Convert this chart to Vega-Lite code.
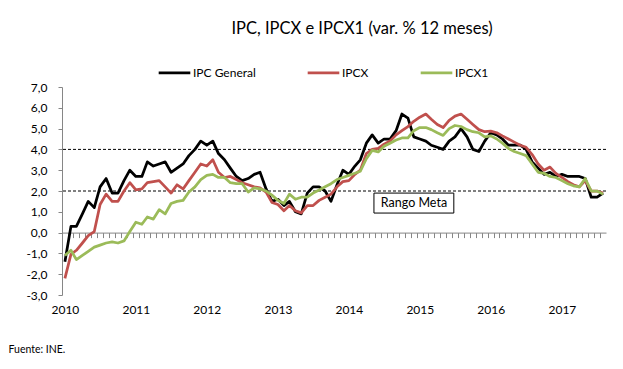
{
  "$schema": "https://vega.github.io/schema/vega-lite/v6.json",
  "width": 544,
  "height": 208,
  "autosize": {"type": "none"},
  "padding": {"left": 62, "top": 87, "right": 17, "bottom": 74},
  "background": "white",
  "config": {
    "font": "Lato",
    "view": {"stroke": null},
    "axis": {"labelOverlap": false},
    "axisY": {"labelOverlap": false, "tickCount": 11},
    "axisQuantitative": {"labelOverlap": false},
    "locale": {"number": {"decimal": ",", "thousands": ".", "grouping": [3], "currency": ["", " $"], "minus": "-"}}
  },
  "title": {"text": "IPC, IPCX  e IPCX1  (var. % 12 meses)", "fontSize": 16.5, "fontWeight": "normal", "color": "#000000", "anchor": "middle", "dx": 28, "offset": 18, "font": "Lato"},
  "datasets": {
    "series": [
      {"mes": "2010/01/01", "IPC General": -1.4, "IPCX": -2.2, "IPCX1": -1.1},
      {"mes": "2010/02/01", "IPC General": 0.3, "IPCX": -1.05, "IPCX1": -0.85},
      {"mes": "2010/03/01", "IPC General": 0.3, "IPCX": -0.85, "IPCX1": -1.3},
      {"mes": "2010/04/01", "IPC General": 0.9, "IPCX": -0.5, "IPCX1": -1.1},
      {"mes": "2010/05/01", "IPC General": 1.5, "IPCX": -0.15, "IPCX1": -0.9},
      {"mes": "2010/06/01", "IPC General": 1.2, "IPCX": 0.05, "IPCX1": -0.7},
      {"mes": "2010/07/01", "IPC General": 2.2, "IPCX": 1.35, "IPCX1": -0.6},
      {"mes": "2010/08/01", "IPC General": 2.6, "IPCX": 1.85, "IPCX1": -0.5},
      {"mes": "2010/09/01", "IPC General": 1.9, "IPCX": 1.5, "IPCX1": -0.45},
      {"mes": "2010/10/01", "IPC General": 1.9, "IPCX": 1.5, "IPCX1": -0.5},
      {"mes": "2010/11/01", "IPC General": 2.5, "IPCX": 2.0, "IPCX1": -0.4},
      {"mes": "2010/12/01", "IPC General": 3.0, "IPCX": 2.4, "IPCX1": 0.05},
      {"mes": "2011/01/01", "IPC General": 2.7, "IPCX": 2.05, "IPCX1": 0.5},
      {"mes": "2011/02/01", "IPC General": 2.7, "IPCX": 2.1, "IPCX1": 0.4},
      {"mes": "2011/03/01", "IPC General": 3.4, "IPCX": 2.4, "IPCX1": 0.75},
      {"mes": "2011/04/01", "IPC General": 3.2, "IPCX": 2.45, "IPCX1": 0.65},
      {"mes": "2011/05/01", "IPC General": 3.3, "IPCX": 2.5, "IPCX1": 1.1},
      {"mes": "2011/06/01", "IPC General": 3.4, "IPCX": 2.2, "IPCX1": 0.9},
      {"mes": "2011/07/01", "IPC General": 2.9, "IPCX": 1.9, "IPCX1": 1.4},
      {"mes": "2011/08/01", "IPC General": 3.1, "IPCX": 2.3, "IPCX1": 1.5},
      {"mes": "2011/09/01", "IPC General": 3.3, "IPCX": 2.1, "IPCX1": 1.55},
      {"mes": "2011/10/01", "IPC General": 3.7, "IPCX": 2.5, "IPCX1": 1.95},
      {"mes": "2011/11/01", "IPC General": 4.0, "IPCX": 2.9, "IPCX1": 2.2},
      {"mes": "2011/12/01", "IPC General": 4.4, "IPCX": 3.3, "IPCX1": 2.55},
      {"mes": "2012/01/01", "IPC General": 4.2, "IPCX": 3.2, "IPCX1": 2.75},
      {"mes": "2012/02/01", "IPC General": 4.4, "IPCX": 3.5, "IPCX1": 2.8},
      {"mes": "2012/03/01", "IPC General": 3.8, "IPCX": 2.9, "IPCX1": 2.65},
      {"mes": "2012/04/01", "IPC General": 3.5, "IPCX": 2.65, "IPCX1": 2.65},
      {"mes": "2012/05/01", "IPC General": 3.1, "IPCX": 2.7, "IPCX1": 2.4},
      {"mes": "2012/06/01", "IPC General": 2.7, "IPCX": 2.55, "IPCX1": 2.35},
      {"mes": "2012/07/01", "IPC General": 2.5, "IPCX": 2.4, "IPCX1": 2.35},
      {"mes": "2012/08/01", "IPC General": 2.6, "IPCX": 2.3, "IPCX1": 1.95},
      {"mes": "2012/09/01", "IPC General": 2.8, "IPCX": 2.2, "IPCX1": 2.15},
      {"mes": "2012/10/01", "IPC General": 2.9, "IPCX": 2.15, "IPCX1": 2.1},
      {"mes": "2012/11/01", "IPC General": 2.1, "IPCX": 1.95, "IPCX1": 2.0},
      {"mes": "2012/12/01", "IPC General": 1.5, "IPCX": 1.45, "IPCX1": 1.8},
      {"mes": "2013/01/01", "IPC General": 1.6, "IPCX": 1.35, "IPCX1": 1.55},
      {"mes": "2013/02/01", "IPC General": 1.3, "IPCX": 1.05, "IPCX1": 1.4},
      {"mes": "2013/03/01", "IPC General": 1.5, "IPCX": 1.3, "IPCX1": 1.85},
      {"mes": "2013/04/01", "IPC General": 1.0, "IPCX": 1.05, "IPCX1": 1.6},
      {"mes": "2013/05/01", "IPC General": 0.9, "IPCX": 0.95, "IPCX1": 1.7},
      {"mes": "2013/06/01", "IPC General": 1.9, "IPCX": 1.3, "IPCX1": 1.7},
      {"mes": "2013/07/01", "IPC General": 2.2, "IPCX": 1.3, "IPCX1": 1.9},
      {"mes": "2013/08/01", "IPC General": 2.2, "IPCX": 1.55, "IPCX1": 2.05},
      {"mes": "2013/09/01", "IPC General": 2.0, "IPCX": 1.7, "IPCX1": 2.2},
      {"mes": "2013/10/01", "IPC General": 1.5, "IPCX": 1.85, "IPCX1": 2.35},
      {"mes": "2013/11/01", "IPC General": 2.3, "IPCX": 2.2, "IPCX1": 2.55},
      {"mes": "2013/12/01", "IPC General": 3.0, "IPCX": 2.45, "IPCX1": 2.65},
      {"mes": "2014/01/01", "IPC General": 2.8, "IPCX": 2.5, "IPCX1": 2.75},
      {"mes": "2014/02/01", "IPC General": 3.2, "IPCX": 2.8, "IPCX1": 2.85},
      {"mes": "2014/03/01", "IPC General": 3.5, "IPCX": 3.0, "IPCX1": 2.95},
      {"mes": "2014/04/01", "IPC General": 4.3, "IPCX": 3.8, "IPCX1": 3.55},
      {"mes": "2014/05/01", "IPC General": 4.7, "IPCX": 4.0, "IPCX1": 3.95},
      {"mes": "2014/06/01", "IPC General": 4.3, "IPCX": 4.05, "IPCX1": 3.88},
      {"mes": "2014/07/01", "IPC General": 4.5, "IPCX": 4.25, "IPCX1": 4.15},
      {"mes": "2014/08/01", "IPC General": 4.5, "IPCX": 4.4, "IPCX1": 4.3},
      {"mes": "2014/09/01", "IPC General": 4.9, "IPCX": 4.7, "IPCX1": 4.45},
      {"mes": "2014/10/01", "IPC General": 5.7, "IPCX": 4.9, "IPCX1": 4.55},
      {"mes": "2014/11/01", "IPC General": 5.5, "IPCX": 5.1, "IPCX1": 4.55},
      {"mes": "2014/12/01", "IPC General": 4.6, "IPCX": 5.35, "IPCX1": 4.9},
      {"mes": "2015/01/01", "IPC General": 4.5, "IPCX": 5.55, "IPCX1": 5.05},
      {"mes": "2015/02/01", "IPC General": 4.4, "IPCX": 5.7, "IPCX1": 5.05},
      {"mes": "2015/03/01", "IPC General": 4.2, "IPCX": 5.45, "IPCX1": 4.95},
      {"mes": "2015/04/01", "IPC General": 4.1, "IPCX": 5.2, "IPCX1": 4.8},
      {"mes": "2015/05/01", "IPC General": 4.0, "IPCX": 5.05, "IPCX1": 4.67},
      {"mes": "2015/06/01", "IPC General": 4.4, "IPCX": 5.4, "IPCX1": 5.0},
      {"mes": "2015/07/01", "IPC General": 4.6, "IPCX": 5.6, "IPCX1": 5.15},
      {"mes": "2015/08/01", "IPC General": 5.0, "IPCX": 5.7, "IPCX1": 5.1},
      {"mes": "2015/09/01", "IPC General": 4.6, "IPCX": 5.45, "IPCX1": 4.95},
      {"mes": "2015/10/01", "IPC General": 4.0, "IPCX": 5.2, "IPCX1": 4.85},
      {"mes": "2015/11/01", "IPC General": 3.9, "IPCX": 4.95, "IPCX1": 4.8},
      {"mes": "2015/12/01", "IPC General": 4.4, "IPCX": 4.85, "IPCX1": 4.6},
      {"mes": "2016/01/01", "IPC General": 4.8, "IPCX": 4.88, "IPCX1": 4.65},
      {"mes": "2016/02/01", "IPC General": 4.7, "IPCX": 4.8, "IPCX1": 4.5},
      {"mes": "2016/03/01", "IPC General": 4.5, "IPCX": 4.65, "IPCX1": 4.3},
      {"mes": "2016/04/01", "IPC General": 4.2, "IPCX": 4.5, "IPCX1": 4.05},
      {"mes": "2016/05/01", "IPC General": 4.2, "IPCX": 4.35, "IPCX1": 3.9},
      {"mes": "2016/06/01", "IPC General": 4.2, "IPCX": 4.2, "IPCX1": 3.8},
      {"mes": "2016/07/01", "IPC General": 4.0, "IPCX": 4.1, "IPCX1": 3.7},
      {"mes": "2016/08/01", "IPC General": 3.4, "IPCX": 3.75, "IPCX1": 3.3},
      {"mes": "2016/09/01", "IPC General": 3.1, "IPCX": 3.3, "IPCX1": 2.9},
      {"mes": "2016/10/01", "IPC General": 2.8, "IPCX": 3.0, "IPCX1": 2.85},
      {"mes": "2016/11/01", "IPC General": 2.9, "IPCX": 3.15, "IPCX1": 2.7},
      {"mes": "2016/12/01", "IPC General": 2.7, "IPCX": 2.85, "IPCX1": 2.65},
      {"mes": "2017/01/01", "IPC General": 2.8, "IPCX": 2.65, "IPCX1": 2.5},
      {"mes": "2017/02/01", "IPC General": 2.7, "IPCX": 2.45, "IPCX1": 2.35},
      {"mes": "2017/03/01", "IPC General": 2.7, "IPCX": 2.3, "IPCX1": 2.25},
      {"mes": "2017/04/01", "IPC General": 2.7, "IPCX": 2.2, "IPCX1": 2.2},
      {"mes": "2017/05/01", "IPC General": 2.6, "IPCX": 2.5, "IPCX1": 2.6},
      {"mes": "2017/06/01", "IPC General": 1.7, "IPCX": 2.0, "IPCX1": 2.0},
      {"mes": "2017/07/01", "IPC General": 1.7, "IPCX": 2.0, "IPCX1": 2.0},
      {"mes": "2017/08/01", "IPC General": 1.9, "IPCX": 1.9, "IPCX1": 1.85}
    ],
    "metas": [{"meta": 2}, {"meta": 4}],
    "nota": [{"etiqueta": "Rango Meta"}]
  },
  "layer": [
    {
      "data": {"name": "metas"},
      "mark": {"type": "rule", "strokeDash": [3, 2], "color": "#000000", "strokeWidth": 1},
      "encoding": {
        "y": {
          "field": "meta", "type": "quantitative",
          "scale": {"domain": [-3, 7], "nice": false, "zero": false},
          "axis": {
            "tickCount": 11,
            "format": ".1f",
            "labelOverlap": false,
            "grid": false, "title": null,
            "domainColor": "#868686", "tickColor": "#868686", "tickSize": 4,
            "labelPadding": 11, "labelFontSize": 12, "labelColor": "#000000", "labelFont": "Lato"
          }
        }
      }
    },
    {
      "data": {"name": "series"},
      "transform": [{"fold": ["IPC General", "IPCX", "IPCX1"], "as": ["serie", "valor"]}],
      "mark": {"type": "line", "strokeJoin": "round"},
      "encoding": {
        "x": {
          "field": "mes", "type": "temporal",
          "scale": {"domain": [{"year": 2009, "month": 12, "date": 17}, {"year": 2017, "month": 8, "date": 16}]},
          "axis": {
            "orient": "bottom", "offset": -62.4, "grid": false,
            "domainColor": "#868686", "domainWidth": 1,
            "tickColor": "#868686", "tickSize": 5, "tickWidth": 1,
            "tickCount": {"interval": "month", "step": 1},
            "tickOffset": -3, "labelOffset": 3,
            "labelExpr": "month(datum.value) == 0 ? timeFormat(datum.value, '%Y') : ''",
            "labelOverlap": false, "labelFlush": false,
            "labelPadding": 67, "labelFontSize": 12, "labelColor": "#000000", "labelFont": "Lato",
            "title": "Fuente: INE.", "titleX": -54, "titleY": 117, "titleAlign": "left",
            "titleBaseline": "middle", "titleFontSize": 10.5, "titleFontWeight": "normal",
            "titleColor": "#000000", "titleFont": "Lato"
          }
        },
        "y": {
          "field": "valor", "type": "quantitative",
          "scale": {"domain": [-3, 7], "nice": false, "zero": false},
          "axis": {
            "tickCount": 11,
            "format": ".1f",
            "labelOverlap": false,
            "grid": false, "title": null,
            "domainColor": "#868686", "tickColor": "#868686", "tickSize": 4,
            "labelPadding": 11, "labelFontSize": 12, "labelColor": "#000000", "labelFont": "Lato"
          }
        },
        "color": {
          "field": "serie", "type": "nominal",
          "scale": {"domain": ["IPC General", "IPCX", "IPCX1"], "range": ["#000000", "#C0504D", "#9BBB59"]},
          "legend": {
            "orient": "none", "direction": "horizontal", "legendX": 95, "legendY": -32,
            "title": null, "symbolType": "stroke", "symbolSize": 1000, "symbolStrokeWidth": 3.5,
            "labelFontSize": 12, "labelOffset": 1, "columnPadding": 46, "labelColor": "#000000", "labelFont": "Lato"
          }
        },
        "strokeWidth": {
          "field": "serie", "type": "ordinal",
          "scale": {"domain": ["IPC General", "IPCX", "IPCX1"], "range": [2.75, 2.75, 4]},
          "legend": null
        }
      }
    },
    {
      "data": {"name": "nota"},
      "mark": {"type": "rect", "fill": "white", "stroke": "#000000", "strokeWidth": 1},
      "encoding": {
        "x": {"datum": {"year": 2014, "month": 5, "date": 10}, "type": "temporal"},
        "x2": {"datum": {"year": 2015, "month": 6, "date": 25}},
        "y": {"datum": 1.9, "type": "quantitative"},
        "y2": {"datum": 0.94}
      }
    },
    {
      "data": {"name": "nota"},
      "mark": {"type": "text", "fontSize": 12.5, "font": "Lato", "color": "#000000", "align": "center", "baseline": "middle"},
      "encoding": {
        "text": {"field": "etiqueta"},
        "x": {"datum": {"year": 2014, "month": 12, "date": 2}, "type": "temporal"},
        "y": {"datum": 1.42, "type": "quantitative"}
      }
    }
  ]
}
